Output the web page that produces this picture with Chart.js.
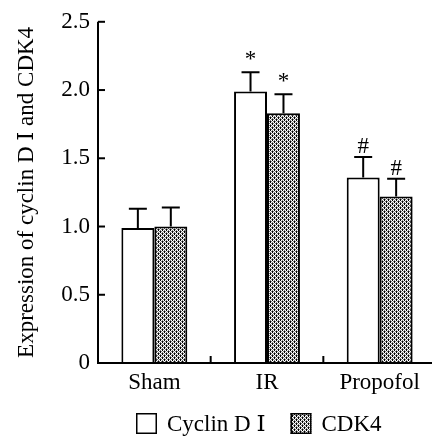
<!DOCTYPE html>
<html lang="en">
<head>
    <meta charset="UTF-8">
    <title>Cyclin D1 and CDK4</title>
    <script src="https://cdn.jsdelivr.net/npm/chart.js"></script>
    <style>
        html, body { margin: 0; padding: 0; background: #fff; overflow: hidden; }
        #wrap { width: 440px; height: 437px; }
    </style>
</head>
<body>
    <div id="wrap"><canvas id="chart" width="440" height="437"></canvas></div>

    <script>
        // data
        const categories = ["Sham", "IR", "Propofol"];
        const cyclinD1 = [0.99, 1.99, 1.36];
        const cyclinD1Err = [0.14, 0.14, 0.15];
        const cdk4 = [1.0, 1.83, 1.22];
        const cdk4Err = [0.14, 0.14, 0.13];
        const cyclinD1Marks = ["", "*", "#"];
        const cdk4Marks = ["", "*", "#"];
        const yTicks = [0, 0.5, 1.0, 1.5, 2.0, 2.5];

        const serif = '"Liberation Serif", "DejaVu Serif", "Times New Roman", serif';

        // dotted grey fill like the printed figure
        function makePattern() {
            let c = document.createElement("canvas");
            c.width = 4; c.height = 4;
            let g = c.getContext("2d");
            let rows = ["KWGW", "WGKG", "GWKW", "KGWG"];
            let col = { K: "#000000", W: "#ffffff", G: "#808080" };
            rows.forEach((r, yy) => {
                for (let xx = 0; xx < 4; xx++) {
                    g.fillStyle = col[r[xx]];
                    g.fillRect(xx, yy, 1, 1);
                }
            });
            return g.createPattern(c, "repeat");
        }
        const grey = makePattern();

        const errors = [cyclinD1Err, cdk4Err];
        const marks = [cyclinD1Marks, cdk4Marks];

        const axesPlugin = {
            id: "axesPlugin",
            afterDatasetsDraw(chart) {
                let ctx = chart.ctx;
                let area = chart.chartArea;
                let x = chart.scales.x, y = chart.scales.y;
                ctx.save();
                ctx.strokeStyle = "#000";
                ctx.lineWidth = 2;

                // error bars (upper only)
                chart.data.datasets.forEach((ds, di) => {
                    let meta = chart.getDatasetMeta(di);
                    meta.data.forEach((bar, i) => {
                        let top = y.getPixelForValue(ds.data[i] + errors[di][i]);
                        ctx.beginPath();
                        ctx.moveTo(bar.x, bar.y);
                        ctx.lineTo(bar.x, top);
                        ctx.moveTo(bar.x - 9, top);
                        ctx.lineTo(bar.x + 9, top);
                        ctx.stroke();
                        if (marks[di][i]) {
                            ctx.fillStyle = "#000";
                            ctx.font = "23px " + serif;
                            ctx.textAlign = "center";
                            ctx.textBaseline = "alphabetic";
                            ctx.fillText(marks[di][i], bar.x, top - (marks[di][i] === "*" ? 6 : 4));
                        }
                    });
                });

                // axis lines
                ctx.beginPath();
                ctx.moveTo(area.left, area.top);
                ctx.lineTo(area.left, area.bottom);
                ctx.lineTo(area.right, area.bottom);
                ctx.stroke();

                // inward ticks on y
                yTicks.forEach(v => {
                    let py = y.getPixelForValue(v);
                    ctx.beginPath();
                    ctx.moveTo(area.left, py);
                    ctx.lineTo(area.left + 7, py);
                    ctx.stroke();
                });

                // inward ticks between categories
                for (let i = 1; i < categories.length; i++) {
                    let px = (x.getPixelForValue(i - 1) + x.getPixelForValue(i)) / 2;
                    ctx.beginPath();
                    ctx.moveTo(px, area.bottom);
                    ctx.lineTo(px, area.bottom - 7);
                    ctx.stroke();
                }

                // legend
                ctx.font = "23px " + serif;
                ctx.textAlign = "left";
                ctx.textBaseline = "middle";
                let lx = 136, ly = 413, box = 21;
                chart.data.datasets.forEach(ds => {
                    ctx.fillStyle = ds.backgroundColor;
                    ctx.fillRect(lx, ly, box, box);
                    ctx.lineWidth = 1.5;
                    ctx.strokeRect(lx + 0.75, ly + 0.75, box - 1.5, box - 1.5);
                    ctx.fillStyle = "#000";
                    ctx.fillText(ds.label, lx + box + 10, ly + box / 2 + 1);
                    lx += box + 10 + ctx.measureText(ds.label).width + 25;
                });
                ctx.restore();
            }
        };

        new Chart(document.getElementById("chart"), {
            type: "bar",
            data: {
                labels: categories,
                datasets: [{
                    label: "Cyclin D \u2160",
                    data: cyclinD1,
                    backgroundColor: "#ffffff",
                    borderColor: "#000",
                    borderWidth: 2
                }, {
                    label: "CDK4",
                    data: cdk4,
                    backgroundColor: grey,
                    borderColor: "#000",
                    borderWidth: 2
                }]
            },
            options: {
                responsive: false,
                animation: false,
                layout: { padding: { top: 19, right: 4, left: 0, bottom: 0 } },
                plugins: { legend: { display: false }, tooltip: { enabled: false } },
                datasets: { bar: { categoryPercentage: 0.585, barPercentage: 1.0 } },
                scales: {
                    x: {
                        grid: { display: false, drawTicks: false },
                        border: { display: false },
                        ticks: { color: "#000", padding: 6, font: { family: serif, size: 23 } },
                        afterFit: s => { s.height = 74; }
                    },
                    y: {
                        min: 0,
                        max: 2.5,
                        grid: { display: false, drawTicks: false },
                        border: { display: false },
                        afterBuildTicks: s => { s.ticks = yTicks.map(v => ({ value: v })); },
                        ticks: {
                            color: "#000",
                            padding: 8,
                            font: { family: serif, size: 23 },
                            callback: v => v === 0 ? "0" : v.toFixed(1)
                        },
                        title: {
                            display: true,
                            text: "Expression of cyclin D \u2160 and CDK4",
                            color: "#000",
                            font: { family: serif, size: 23 },
                            padding: { top: 13, bottom: 0 }
                        },
                        afterFit: s => { s.width = 98; }
                    }
                }
            },
            plugins: [axesPlugin]
        });
    </script>
</body>
</html>
